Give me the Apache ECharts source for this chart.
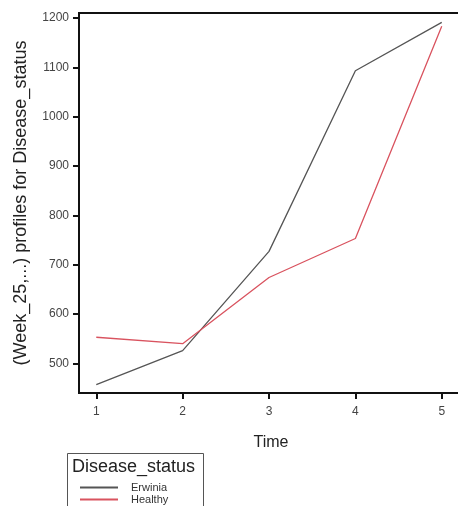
<!DOCTYPE html>
<html><head><meta charset="utf-8">
<script src="https://cdn.jsdelivr.net/npm/echarts@6/dist/echarts.min.js"></script>
<style>html,body{margin:0;padding:0;background:#fff}#c{width:458px;height:506px}</style>
</head><body><div id="c"></div>
<script>
var times = [1, 2, 3, 4, 5];
var erwinia = [457, 526, 727, 1093, 1191];
var healthy = [553, 540, 674, 753, 1183];
var yTicks = [500, 600, 700, 800, 900, 1000, 1100, 1200];
var seriesNames = ['Erwinia', 'Healthy'];

function pairs(xs, ys){ return xs.map(function(x,i){ return [x, ys[i]]; }); }

var font = 'Liberation Sans, Arial, sans-serif';
function legendFor(name, top){
  return {orient:'vertical', left:80, top:top, padding:0, itemWidth:38, itemHeight:2,
    icon:'rect', data:[name], selectedMode:false,
    textStyle:{fontFamily:font, fontSize:11, color:'#333', padding:[0,0,0,8]}};
}
var chart = echarts.init(document.getElementById('c'), null, {renderer:'canvas'});
chart.setOption({
  animation:false,
  backgroundColor:'#fff',
  grid:{left:79, top:13, width:384, height:380, outerBoundsMode:'none', containLabel:false,
    show:true, borderColor:'#111', borderWidth:2, backgroundColor:'transparent'},
  xAxis:{type:'value', min:0.8, max:5.246,
    name:'Time', nameLocation:'middle', nameGap:42,
    nameTextStyle:{fontFamily:font, fontSize:16, color:'#222'},
    axisLine:{show:true, lineStyle:{color:'#111', width:2}},
    axisTick:{show:true, length:6, customValues:times, lineStyle:{color:'#111', width:2}},
    axisLabel:{customValues:times, fontFamily:font, fontSize:12, color:'#444', margin:13},
    splitLine:{show:false}},
  yAxis:{type:'value', min:440, max:1210,
    name:'(Week_25,...) profiles for Disease_status', nameLocation:'middle', nameGap:49, nameRotate:90,
    nameTextStyle:{fontFamily:font, fontSize:18, color:'#222'},
    axisLine:{show:true, lineStyle:{color:'#111', width:2}},
    axisTick:{show:true, length:6, customValues:yTicks, lineStyle:{color:'#111', width:2}},
    axisLabel:{customValues:yTicks, formatter:function(v){return String(v);}, fontFamily:font, fontSize:12, color:'#444', margin:10},
    splitLine:{show:false}},
  legend:[legendFor(seriesNames[0], 482), legendFor(seriesNames[1], 494)],
  graphic:[
    {type:'rect', shape:{x:67.5, y:453.5, width:136, height:70}, style:{fill:'none', stroke:'#555', lineWidth:1}},
    {type:'text', left:72, top:458, style:{text:'Disease_status', font:'18px ' + font, fill:'#222'}}
  ],
  series:[
    {name:seriesNames[0], type:'line', data:pairs(times, erwinia), showSymbol:false, symbol:'none',
     lineStyle:{color:'#555', width:1.3}, itemStyle:{color:'#555'}},
    {name:seriesNames[1], type:'line', data:pairs(times, healthy), showSymbol:false, symbol:'none',
     lineStyle:{color:'#d9535f', width:1.3}, itemStyle:{color:'#d9535f'}}
  ]
});
</script></body></html>
